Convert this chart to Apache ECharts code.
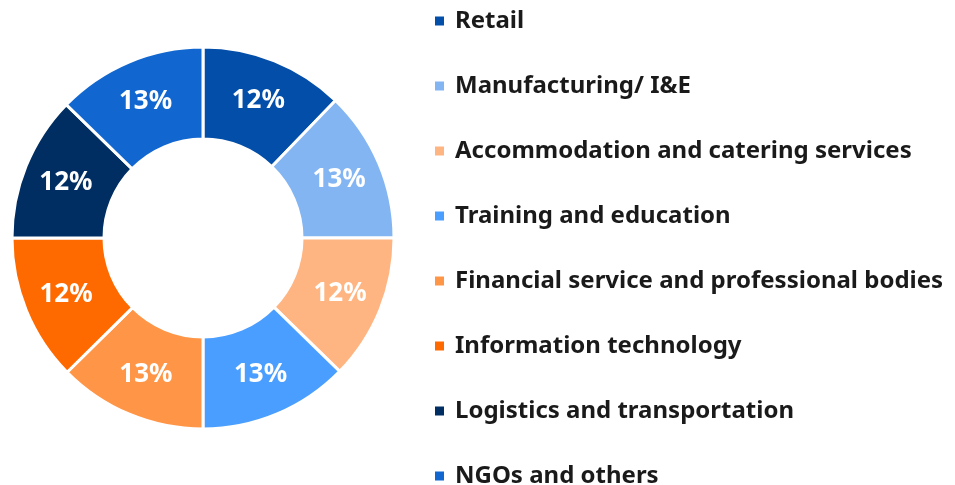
<!DOCTYPE html>
<html>
<head>
<meta charset="utf-8">
<script src="https://cdn.jsdelivr.net/npm/echarts@6/dist/echarts.min.js"></script>
<style>
  html, body { margin: 0; padding: 0; background: #fff; }
  #chart { width: 955px; height: 485px; }
</style>
</head>
<body>
<div id="chart"></div>
<script>
// sectors, clockwise from 12 o'clock
var categories = [
  "Retail",
  "Manufacturing/ I&E",
  "Accommodation and catering services",
  "Training and education",
  "Financial service and professional bodies",
  "Information technology",
  "Logistics and transportation",
  "NGOs and others"
];
var shares = [12.2, 12.8, 12.3, 12.7, 12.6, 12.4, 12.3, 12.7];
var colors = ["#034ea8", "#84b5f3", "#ffb581", "#4a9eff", "#ff9647", "#ff6a00", "#002e62", "#1167cf"];

var chart = echarts.init(document.getElementById("chart"));

var pieData = categories.map(function (name, i) {
  return { name: name, value: shares[i], itemStyle: { color: colors[i] } };
});

// legend split in two blocks of four; fixed height so the last row doesn't wrap
function legendPart(names, top) {
  return {
    orient: "vertical",
    left: 433,
    top: top,
    height: 300,
    padding: 0,
    icon: "rect",
    itemWidth: 11,
    itemHeight: 11,
    itemGap: 41,
    data: names,
    textStyle: {
      fontFamily: "Noto Sans",
      fontWeight: "bold",
      fontSize: 24,
      color: "#1a1a1a",
      padding: [0, 0, 0, 5]
    }
  };
}

var option = {
  animation: false,
  legend: [
    legendPart(categories.slice(0, 4), 9),
    legendPart(categories.slice(4), 269)
  ],
  series: [
    {
      type: "pie",
      center: [203, 238],
      radius: [99, 191],
      startAngle: 90,
      clockwise: true,
      itemStyle: { borderColor: "#fff", borderWidth: 3 },
      label: {
        position: "inside",
        color: "#fff",
        fontFamily: "Noto Sans",
        fontWeight: "bold",
        fontSize: 26,
        formatter: function (p) {
          return Math.round(p.percent) + "%";
        }
      },
      labelLine: { show: false },
      data: pieData
    }
  ]
};

chart.setOption(option);
window.addEventListener("resize", function () { chart.resize(); });
</script>
</body>
</html>
